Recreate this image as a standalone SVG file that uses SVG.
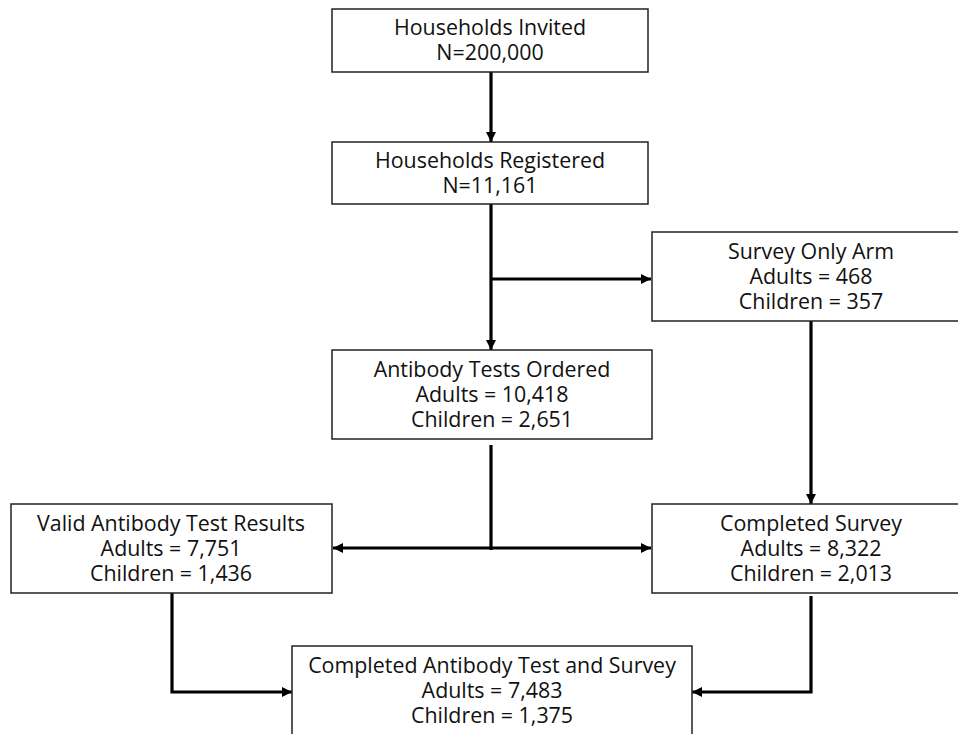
<svg xmlns="http://www.w3.org/2000/svg" width="958" height="734" viewBox="0 0 958 734">
<defs>
<marker id="ah" viewBox="0 0 10 10" refX="10" refY="5" markerWidth="10" markerHeight="10" markerUnits="userSpaceOnUse" orient="auto-start-reverse">
<path d="M0,0 L10,5 L0,10 Z" fill="#000"/>
</marker>
<style>
.box{fill:#fff;stroke:#222;stroke-width:1.5}
.t{font-family:"Open Sans","Noto Sans",sans-serif;font-size:21.4px;fill:#111;text-anchor:middle}
.c{fill:none;stroke:#000;stroke-width:3.2}
</style>
</defs>
<rect width="958" height="734" fill="#fff"/>
<g id="connectors">
<path class="c" d="M491,72 V142" marker-end="url(#ah)"/>
<path class="c" d="M491,204 V350" marker-end="url(#ah)"/>
<path class="c" d="M491,279 H651" marker-end="url(#ah)"/>
<path class="c" d="M811,321 V504" marker-end="url(#ah)"/>
<path class="c" d="M491,445 V550"/>
<path class="c" d="M333,548 H651" marker-start="url(#ah)" marker-end="url(#ah)"/>
<path class="c" d="M172,593 V692 H292" marker-end="url(#ah)"/>
<path class="c" d="M811,596 V692 H692" marker-end="url(#ah)"/>
</g>
<g id="invited">
<rect class="box" x="332" y="9" width="316" height="63"/>
<text class="t" y="35"><tspan x="490">Households Invited</tspan><tspan x="490" dy="25">N=200,000</tspan></text>
</g>
<g id="registered">
<rect class="box" x="332" y="142" width="316" height="62"/>
<text class="t" y="168"><tspan x="490">Households Registered</tspan><tspan x="490" dy="25">N=11,161</tspan></text>
</g>
<g id="surveyonly">
<rect class="box" x="652" y="232" width="318" height="89"/>
<text class="t" y="259"><tspan x="811">Survey Only Arm</tspan><tspan x="811" dy="25">Adults = 468</tspan><tspan x="811" dy="25">Children = 357</tspan></text>
</g>
<g id="ordered">
<rect class="box" x="332" y="350" width="320" height="89"/>
<text class="t" y="377"><tspan x="492">Antibody Tests Ordered</tspan><tspan x="492" dy="25">Adults = 10,418</tspan><tspan x="492" dy="25">Children = 2,651</tspan></text>
</g>
<g id="valid">
<rect class="box" x="11" y="504" width="321" height="89"/>
<text class="t" y="531"><tspan x="171">Valid Antibody Test Results</tspan><tspan x="171" dy="25">Adults = 7,751</tspan><tspan x="171" dy="25">Children = 1,436</tspan></text>
</g>
<g id="completedsurvey">
<rect class="box" x="652" y="504" width="318" height="89"/>
<text class="t" y="531"><tspan x="811">Completed Survey</tspan><tspan x="811" dy="25">Adults = 8,322</tspan><tspan x="811" dy="25">Children = 2,013</tspan></text>
</g>
<g id="both">
<rect class="box" x="292" y="646" width="400" height="100"/>
<text class="t" y="673"><tspan x="492">Completed Antibody Test and Survey</tspan><tspan x="492" dy="25">Adults = 7,483</tspan><tspan x="492" dy="25">Children = 1,375</tspan></text>
</g>
</svg>
